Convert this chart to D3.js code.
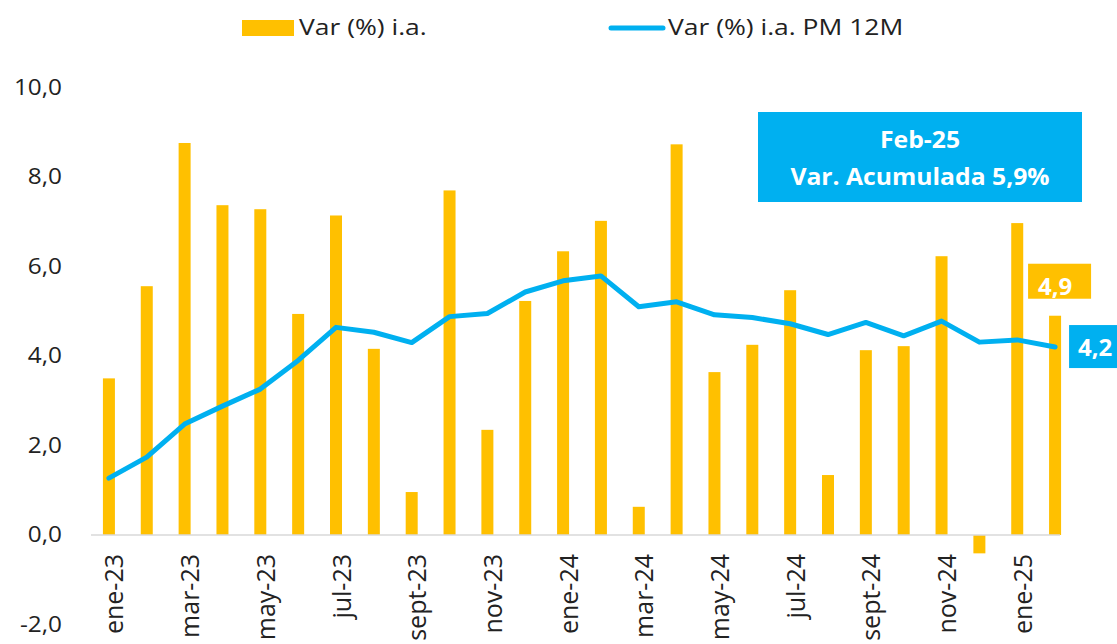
<!DOCTYPE html>
<html>
<head>
<meta charset="utf-8">
<script src="https://cdn.jsdelivr.net/npm/d3@7"></script>
<style>
  html, body { margin: 0; padding: 0; background: #fff; }
  svg { display: block; font-family: "Open Sans", sans-serif; }
</style>
</head>
<body>
<svg id="chart" width="1117" height="644"></svg>
<script>
const categories = ["ene-23","feb-23","mar-23","abr-23","may-23","jun-23","jul-23","ago-23","sept-23","oct-23","nov-23","dic-23","ene-24","feb-24","mar-24","abr-24","may-24","jun-24","jul-24","ago-24","sept-24","oct-24","nov-24","dic-24","ene-25","feb-25"];
const varIA = [3.50,5.56,8.76,7.37,7.28,4.94,7.14,4.16,0.96,7.70,2.35,5.23,6.34,7.02,0.63,8.73,3.64,4.25,5.47,1.34,4.13,4.22,6.23,-0.41,6.97,4.9];
const varPM12 = [1.27,1.74,2.48,2.88,3.26,3.90,4.64,4.53,4.30,4.88,4.95,5.43,5.68,5.79,5.10,5.21,4.92,4.86,4.72,4.48,4.75,4.45,4.78,4.31,4.36,4.2];
const yTicks = [-2,0,2,4,6,8,10];
const xTickLabels = ["ene-23","mar-23","may-23","jul-23","sept-23","nov-23","ene-24","mar-24","may-24","jul-24","sept-24","nov-24","ene-25"];
const seriesNames = ["Var (%) i.a.", "Var (%) i.a. PM 12M"];
const boxLines = ["Feb-25", "Var. Acumulada 5,9%"];

const BAR = "#FFC000", LINE = "#00B0F0", TXT = "#222";
const SX = 1.16;   // horizontal stretch of axis text
const SXL = 1.26;  // horizontal stretch of legend text

const svg = d3.select("#chart");
const x = d3.scalePoint().domain(categories).range([90, 1074]).padding(0.5);
const y = d3.scaleLinear().domain([-2, 10]).range([624.5, 87.5]);
const fmt = v => d3.format(".1f")(v).replace(".", ",").replace("\u2212", "-");

// y tick labels
const yAxis = d3.axisLeft(y).tickValues(yTicks).tickFormat(fmt).tickSize(0).tickPadding(0);
const gy = svg.append("g").attr("transform", "translate(62,0)").call(yAxis);
gy.select(".domain").remove();
gy.selectAll(".tick").attr("transform", null);
gy.selectAll("text")
  .attr("x", null).attr("y", null).attr("dy", null)
  .each(function(d){ d3.select(this).attr("transform", `translate(0,${y(d)+7}) scale(${SX},1)`); })
  .attr("fill", TXT).attr("font-size", 21).attr("font-family", "Open Sans").attr("text-anchor", "end");

// bars
svg.append("g").selectAll("rect").data(varIA).join("rect")
  .attr("x", (d,i) => x(categories[i]) - 6)
  .attr("width", 12)
  .attr("y", d => Math.min(y(d), y(0)))
  .attr("height", d => Math.abs(y(d) - y(0)))
  .attr("fill", BAR);

// zero axis line
svg.append("line")
  .attr("x1", x(categories[0]) - x.step()/2 + 1).attr("x2", x(categories[categories.length-1]) + 5)
  .attr("y1", y(0)).attr("y2", y(0))
  .attr("stroke", "#D9D9D9").attr("stroke-width", 1.5);

// x labels
const xAxis = d3.axisBottom(x).tickValues(xTickLabels).tickSize(0);
const gx = svg.append("g").attr("transform", `translate(0,${y(0)})`).call(xAxis);
gx.select(".domain").remove();
gx.selectAll(".tick text")
  .attr("y", null).attr("dy", null).attr("x", null)
  .attr("text-anchor", "end")
  .attr("transform", "translate(14,19) scale(1.0,1) rotate(-90)")
  .attr("font-size", 25).attr("font-family", "Open Sans").attr("fill", TXT);

// line
const line = d3.line().x((d,i) => x(categories[i])).y(d => y(d));
svg.append("path").datum(varPM12)
  .attr("d", line).attr("fill", "none")
  .attr("stroke", LINE).attr("stroke-width", 5)
  .attr("stroke-linejoin", "round").attr("stroke-linecap", "round");

// legend
const lg = svg.append("g");
lg.append("rect").attr("x", 242).attr("y", 20).attr("width", 52).attr("height", 16).attr("fill", BAR);
lg.append("text").attr("transform", `translate(299,35) scale(${SXL},1)`)
  .attr("font-size", 21).attr("fill", TXT).text(seriesNames[0]);
lg.append("line").attr("x1", 611).attr("x2", 663).attr("y1", 28).attr("y2", 28)
  .attr("stroke", LINE).attr("stroke-width", 5).attr("stroke-linecap", "round");
lg.append("text").attr("transform", `translate(668,35) scale(${SXL},1)`)
  .attr("font-size", 21).attr("fill", TXT).text(seriesNames[1]);

// annotation box
svg.append("rect").attr("x", 758).attr("y", 112).attr("width", 324).attr("height", 90).attr("fill", LINE);
svg.append("text").attr("transform", "translate(920,148) scale(1.03,1)").attr("text-anchor", "middle")
  .attr("font-weight", "bold").attr("font-size", 24).attr("fill", "#fff").text(boxLines[0]);
svg.append("text").attr("transform", "translate(920,185) scale(1.03,1)").attr("text-anchor", "middle")
  .attr("font-weight", "bold").attr("font-size", 24).attr("fill", "#fff").text(boxLines[1]);

// end labels
const last = categories.length - 1;
const lx = x(categories[last]);
const yb = y(varIA[last]);
svg.append("rect").attr("x", lx - 27).attr("y", yb - 52).attr("width", 63).attr("height", 35).attr("fill", BAR);
svg.append("text").attr("x", lx).attr("y", yb - 21).attr("text-anchor", "middle")
  .attr("font-weight", "bold").attr("font-size", 24).attr("fill", "#fff").text(fmt(varIA[last]));
const yl = y(varPM12[last]);
svg.append("rect").attr("x", lx + 14).attr("y", yl - 22).attr("width", 60).attr("height", 43).attr("fill", LINE);
svg.append("text").attr("x", lx + 40).attr("y", yl + 9).attr("text-anchor", "middle")
  .attr("font-weight", "bold").attr("font-size", 24).attr("fill", "#fff").text(fmt(varPM12[last]));
</script>
</body>
</html>
